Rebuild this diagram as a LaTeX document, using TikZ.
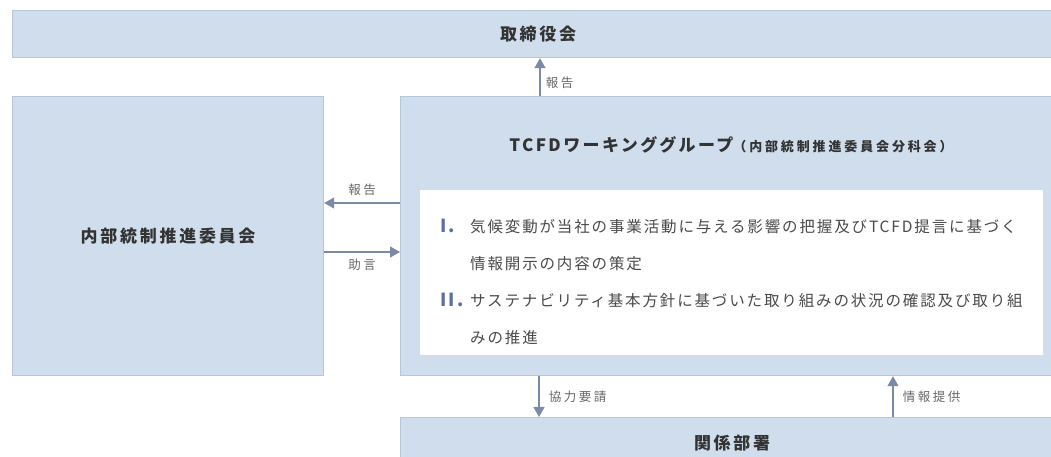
\documentclass[tikz,border=0pt]{standalone}
\usepackage{fontspec}
\setmainfont{Noto Sans CJK JP}
\usetikzlibrary{arrows.meta}

\definecolor{panelfill}{HTML}{CFDDED}
\definecolor{panelline}{HTML}{B7C7DA}
\definecolor{flowline}{HTML}{7A8BA7}
\definecolor{titletext}{HTML}{333333}
\definecolor{bodytext}{HTML}{4A4A4A}
\definecolor{notetext}{HTML}{666666}
\definecolor{numblue}{HTML}{5B6FA3}

\newcommand{\panelfont}{\fontsize{17}{20}\selectfont\bfseries\addfontfeatures{LetterSpace=16}}
\newcommand{\headfont}{\fontsize{17}{20}\selectfont\bfseries\addfontfeatures{LetterSpace=14}}
\newcommand{\subheadfont}{\fontsize{13}{15}\selectfont\bfseries\addfontfeatures{LetterSpace=22}}
\newcommand{\notefont}{\fontsize{12.5}{15}\selectfont\addfontfeatures{LetterSpace=20}}
\newcommand{\listfont}{\fontsize{15.5}{37}\selectfont\addfontfeatures{LetterSpace=12}}
\newcommand{\itemno}[1]{\makebox[30pt][l]{\color{numblue}\fontsize{18}{37}\selectfont\bfseries #1}}

\tikzset{
  panel/.style={draw=panelline, fill=panelfill, line width=1.2pt,
    anchor=north west, inner sep=0pt, text=titletext, font=\panelfont},
  flow/.style={draw=flowline, line width=1.2pt,
    -{Triangle[width=11pt,length=10pt]}},
  note/.style={text=notetext, font=\notefont},
}

\begin{document}
\begin{tikzpicture}
\useasboundingbox (0pt,0pt) rectangle (1051pt,457pt);

% boxes
\node[panel, minimum width=1051pt, minimum height=47pt] (board) at (12pt, 447pt)
     {取締役会};
\node[panel, minimum width=311pt, minimum height=279pt] (committee) at (12pt, 361pt)
     {内部統制推進委員会};
\node[panel, minimum width=663pt, minimum height=279pt] (tcfd) at (400pt, 361pt) {};
\node[panel, minimum width=663pt, minimum height=50pt] (depts) at (400pt, 40pt)
     {関係部署};

\node[text=titletext, font=\headfont] (tcfdtitle) at (731pt, 312pt)
     {TCFDワーキンググループ{\subheadfont （内部統制推進委員会分科会）}};
\node[fill=white, anchor=north west, minimum width=623pt, minimum height=165pt]
     (tasks) at (420pt, 267pt) {};
\node[anchor=west, inner sep=0pt, text=bodytext, font=\listfont] (tasklist) at (440pt, 176pt)
     {\begin{tabular}{@{}l@{}l@{}}
      \itemno{I.} & 気候変動が当社の事業活動に与える影響の把握及びTCFD提言に基づく\\
      & 情報開示の内容の策定\\
      \itemno{II.} & サステナビリティ基本方針に基づいた取り組みの状況の確認及び取り組\\
      & みの推進
      \end{tabular}};

% connectors
\coordinate (upx) at (540pt, 0pt);
\coordinate (reqx) at (539pt, 0pt);
\coordinate (infox) at (893pt, 0pt);
\coordinate (reportrow) at (0pt, 254pt);
\coordinate (adviserow) at (0pt, 205pt);

\draw[flow] (tcfd.north -| upx) -- (board.south -| upx)
     node[note, pos=0.35, right=2pt] {報告};
\draw[flow] (tcfd.west |- reportrow) -- (committee.east |- reportrow)
     node[note, midway, above=3pt] {報告};
\draw[flow] (committee.east |- adviserow) -- (tcfd.west |- adviserow)
     node[note, midway, below=3pt] {助言};
\draw[flow] (tcfd.south -| reqx) -- (depts.north -| reqx)
     node[note, midway, right=6pt] {協力要請};
\draw[flow] (depts.north -| infox) -- (tcfd.south -| infox)
     node[note, midway, right=6pt] {情報提供};

\end{tikzpicture}
\end{document}
